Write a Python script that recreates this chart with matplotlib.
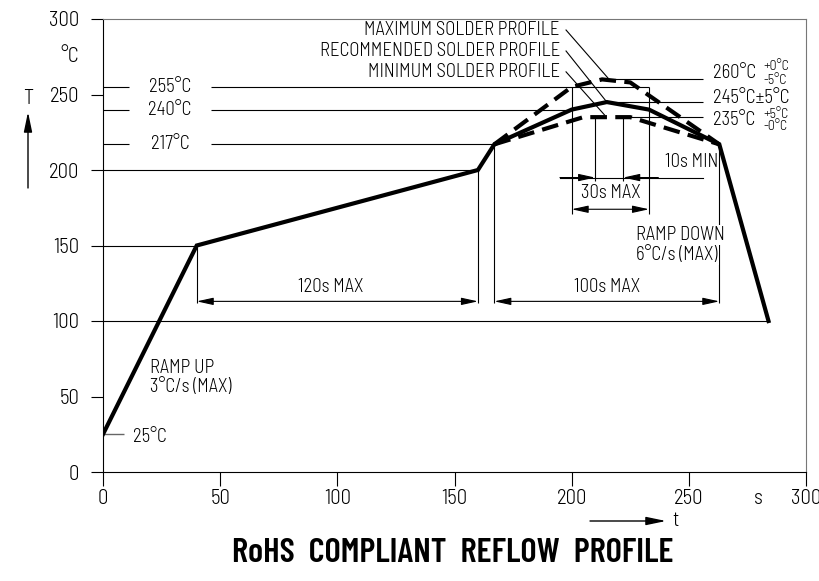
import matplotlib
matplotlib.use("Agg")
import matplotlib.pyplot as plt

# ---- data ----
rec_t = [0, 40, 160, 167, 200, 215, 233, 263, 284]
rec_T = [25, 150, 200, 217, 240, 245, 240, 217, 100]
max_t = [167, 200, 213, 225, 263]
max_T = [217, 255, 260, 258, 217]
min_t = [167, 205, 225, 263]
min_T = [217, 235, 235, 217]
ticks = [0, 50, 100, 150, 200, 250, 300]
ref_levels = [255, 240, 217]
ref_labels = ["255°C", "240°C", "217°C"]
ref_ends = [233, 200, 167]

W, H = 820, 581
fig = plt.figure(figsize=(W / 100, H / 100), dpi=100)
ax = fig.add_axes([103 / W, 1 - 472 / H, (806 - 103) / W, (472 - 19) / H])
ax.set_xlim(0, 300)
ax.set_ylim(0, 300)

FS = 13.5
fam = ["Barlow Semi Condensed", "DejaVu Sans"]
thin = dict(color="black", lw=0.8)
TX = dict(fontsize=FS, family=fam, weight=300)

for s in ["top", "right"]:
    ax.spines[s].set_color("#777777")
for s in ["left", "bottom"]:
    ax.spines[s].set_color("black")
ax.set_xticks(ticks)
ax.set_yticks(ticks)
ax.set_xticklabels([str(v) for v in ticks], fontsize=15, family=fam, weight=300)
ax.set_yticklabels([str(v) for v in ticks], fontsize=15, family=fam, weight=300)
ax.tick_params(axis="y", direction="out", length=9, width=0.8, pad=8)
ax.tick_params(axis="x", direction="out", length=10, width=0.8, pad=2)

# profiles
ax.plot(rec_t, rec_T, color="black", lw=3, solid_joinstyle="miter", zorder=5)
ax.plot(max_t, max_T, color="black", lw=3, ls=(0, (4, 2)), zorder=5)
ax.plot(min_t, min_T, color="black", lw=3, ls=(0, (4, 2)), zorder=5)

# horizontal reference lines from profile
ax.hlines(rec_T[1], 0, rec_t[1], **thin)
ax.hlines(rec_T[2], 0, rec_t[2], **thin)
ax.hlines(rec_T[-1], 0, rec_t[-1], **thin)
ax.hlines(rec_T[0], 0, 9, color="#666666", lw=1)
ax.text(12.8, rec_T[0] - 2, "25°C", va="center", ha="left", **TX)

for lvl, lab, end in zip(ref_levels, ref_labels, ref_ends):
    ax.hlines(lvl, 0, 11, **thin)
    ax.hlines(lvl, 46, end, **thin)
    ax.text(28.6, lvl, lab, va="center", ha="center", **TX)

# vertical extension lines
ax.vlines(rec_t[1], 112, rec_T[1], **thin)
ax.vlines(rec_t[2], 112, rec_T[2], **thin)
ax.vlines(rec_t[3], 112, rec_T[3], **thin)
ax.vlines(rec_t[7], 112, rec_T[7], **thin, zorder=1)
ax.vlines(200, 171, 255, **thin)
ax.vlines(233, 171, 255, **thin)
ax.vlines(210, 193, 235, **thin)
ax.vlines(222, 193, 235, **thin)

arr = dict(arrowstyle="<|-|>,head_length=1.0,head_width=0.22", color="black", lw=0.8,
           shrinkA=0, shrinkB=0, mutation_scale=10)
ax.annotate("", xy=(rec_t[1], 113), xytext=(rec_t[2], 113), arrowprops=arr)
ax.annotate("", xy=(rec_t[3], 113), xytext=(rec_t[7], 113), arrowprops=arr)
ax.annotate("", xy=(200, 174), xytext=(233, 174), arrowprops=arr)
one = dict(arrowstyle="-|>,head_length=1.0,head_width=0.22", color="black", lw=0.8,
           shrinkA=0, shrinkB=0, mutation_scale=10)
ax.plot([195, 256], [195, 195], **thin)
ax.annotate("", xy=(210, 195), xytext=(195, 195), arrowprops=one)
ax.annotate("", xy=(222, 195), xytext=(237, 195), arrowprops=one)

ax.text(97, 122.5, "120s MAX", ha="center", va="center", **TX)
ax.text(215, 122.5, "100s MAX", ha="center", va="center", **TX)
ax.text(216.5, 185, "30s MAX", ha="center", va="center", **TX)
ax.text(262.5, 205, "10s MIN", ha="right", va="center", **TX)

ax.text(20, 69, "RAMP UP", ha="left", va="center", **TX)
ax.text(20, 56, "3°C/s (MAX)", ha="left", va="center", **TX)
wb = dict(facecolor="white", edgecolor="none", pad=1)
ax.text(227.5, 157, "RAMP DOWN", ha="left", va="center", bbox=wb, zorder=3, **TX)
ax.text(227.5, 144, "6°C/s (MAX)", ha="left", va="center", bbox=wb, zorder=3, **TX)

# profile labels with leaders
prof_labels = ["MAXIMUM SOLDER PROFILE", "RECOMMENDED SOLDER PROFILE", "MINIMUM SOLDER PROFILE"]
prof_y = [292.7, 278.8, 265]
leader_end = [(216, 260), (215, 245), (214, 236.5)]
for lab, yy, (ex, ey) in zip(prof_labels, prof_y, leader_end):
    ax.text(195, yy, lab, ha="right", va="center", **TX)
    ax.plot([197.6, ex], [yy, ey], **thin)

# right side limits
SM = dict(fontsize=10, family=fam, weight=300)
ax.hlines(260, 216, 256, **thin)
ax.hlines(245, 215, 256, **thin)
ax.hlines(235, 222, 256, **thin)
ax.text(260.4, 264, "260°C", ha="left", va="center", **TX)
ax.text(282, 268.5, "+0°C", ha="left", va="center", **SM)
ax.text(282, 259.5, "-5°C", ha="left", va="center", **SM)
ax.text(260.4, 248, "245°C±5°C", ha="left", va="center", **TX)
ax.text(260.4, 233, "235°C", ha="left", va="center", **TX)
ax.text(282, 237, "+5°C", ha="left", va="center", **SM)
ax.text(282, 228.5, "-0°C", ha="left", va="center", **SM)

# axis labels
AX = dict(fontsize=15, family=fam, weight=300)
fig.text(70 / W, 1 - 57 / H, "°C", ha="center", va="center", **AX)
fig.text(28 / W, 1 - 98 / H, "T", ha="center", va="center", **AX)
fig.text(758 / W, 1 - 498 / H, "s", ha="center", va="center", **AX)
fig.text(676 / W, 1 - 521 / H, "t", ha="center", va="center", **AX)
farr = dict(arrowstyle="-|>,head_length=1.2,head_width=0.25", color="black", lw=1,
            shrinkA=0, shrinkB=0, mutation_scale=10)
ax.annotate("", xy=(28 / W, 1 - 112 / H), xytext=(28 / W, 1 - 188 / H),
            xycoords="figure fraction", textcoords="figure fraction", arrowprops=farr,
            annotation_clip=False)
ax.annotate("", xy=(666 / W, 1 - 521 / H), xytext=(590 / W, 1 - 521 / H),
            xycoords="figure fraction", textcoords="figure fraction", arrowprops=farr,
            annotation_clip=False)

fig.text(453 / W, 1 - 553 / H, "RoHS  COMPLIANT  REFLOW  PROFILE", fontsize=25,
         family=["Barlow Condensed", "DejaVu Sans"], weight=600, ha="center", va="center")

fig.savefig("out.png", dpi=100)
